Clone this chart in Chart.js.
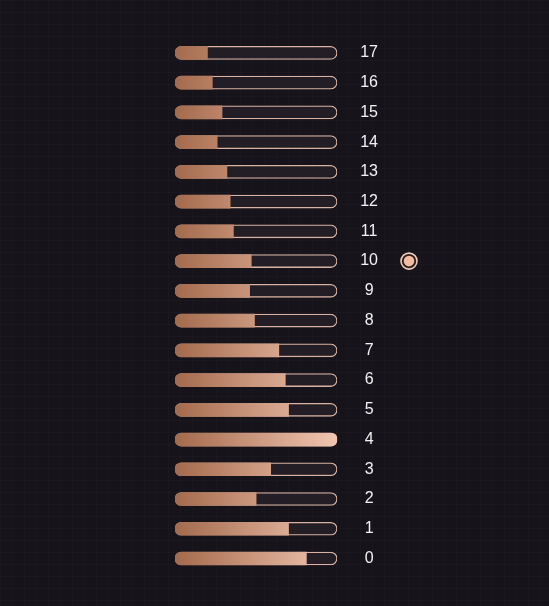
<!DOCTYPE html>
<html>
<head>
<meta charset="utf-8">
<script src="https://cdn.jsdelivr.net/npm/chart.js@4/dist/chart.umd.min.js"></script>
<style>
html,body{margin:0;padding:0;background:#16131a;}
#wrap{position:relative;width:549px;height:606px;}
</style>
</head>
<body>
<div id="wrap"><canvas id="c" width="549" height="606"></canvas></div>
<script>
const categories = ['17','16','15','14','13','12','11','10','9','8','7','6','5','4','3','2','1','0'];
const progressValues = [20, 23, 29, 26, 32, 34, 36, 47, 46, 49, 64, 68, 70, 100, 59, 50, 70, 81];
const trackValues = categories.map(() => 100);
const highlighted = '10';

const bgPlugin = {
  id: 'bg',
  beforeDraw(chart) {
    const ctx = chart.ctx;
    ctx.save();
    ctx.fillStyle = '#16131a';
    ctx.fillRect(0, 0, chart.width, chart.height);
    ctx.strokeStyle = 'rgba(255,255,255,0.018)';
    ctx.lineWidth = 1;
    for (let x = 0.5; x < chart.width; x += 12) {
      ctx.beginPath(); ctx.moveTo(x, 0); ctx.lineTo(x, chart.height); ctx.stroke();
    }
    for (let y = 0.5; y < chart.height; y += 12) {
      ctx.beginPath(); ctx.moveTo(0, y); ctx.lineTo(chart.width, y); ctx.stroke();
    }
    ctx.restore();
  }
};

const markerPlugin = {
  id: 'marker',
  afterDraw(chart) {
    const ys = chart.scales.y;
    const idx = categories.indexOf(highlighted);
    if (idx < 0) return;
    const y = ys.getPixelForValue(idx);
    const x = ys.right + 8;
    const ctx = chart.ctx;
    ctx.save();
    ctx.beginPath(); ctx.arc(x, y, 8, 0, Math.PI * 2);
    ctx.fillStyle = '#2a1d1c'; ctx.fill();
    ctx.lineWidth = 1.6; ctx.strokeStyle = '#efcdbd'; ctx.stroke();
    ctx.beginPath(); ctx.arc(x, y, 5.3, 0, Math.PI * 2);
    ctx.fillStyle = '#f2bca4'; ctx.fill();
    ctx.restore();
  }
};

const ctx = document.getElementById('c').getContext('2d');
function fillGradient(context) {
  const chart = context.chart;
  const area = chart.chartArea;
  if (!area) return '#d09a80';
  const g = chart.ctx.createLinearGradient(area.left, 0, area.right, 0);
  g.addColorStop(0, '#a46a4c');
  g.addColorStop(1, '#f2c6b2');
  return g;
}

new Chart(ctx, {
  type: 'bar',
  data: {
    labels: categories,
    datasets: [
      {
        label: 'progress',
        data: progressValues,
        backgroundColor: fillGradient,
        borderWidth: 0,
        borderSkipped: false,
        borderRadius: (c) => {
          const v = c.raw;
          return v >= 100 ? 7 : {topLeft: 7, bottomLeft: 7, topRight: 0, bottomRight: 0};
        },
        barThickness: 13,
        grouped: false,
        order: 0
      },
      {
        label: 'track',
        data: trackValues,
        backgroundColor: '#231e25',
        borderColor: '#d9b2a2',
        borderWidth: 1.3,
        borderSkipped: false,
        borderRadius: 7,
        barThickness: 13,
        grouped: false,
        order: 1
      }
    ]
  },
  options: {
    indexAxis: 'y',
    responsive: false,
    animation: false,
    devicePixelRatio: 1,
    layout: { padding: { left: 175, right: 148, top: 38, bottom: 31 } },
    plugins: { legend: { display: false }, tooltip: { enabled: false } },
    scales: {
      x: { display: false, min: 0, max: 100 },
      y: {
        position: 'right',
        grid: { display: false, drawTicks: false },
        border: { display: false },
        ticks: {
          color: '#f2f2f2',
          padding: 23,
          crossAlign: 'center',
          font: { family: 'Liberation Sans, Arial, sans-serif', size: 16 }
        }
      }
    }
  },
  plugins: [bgPlugin, markerPlugin]
});
</script>
</body>
</html>
